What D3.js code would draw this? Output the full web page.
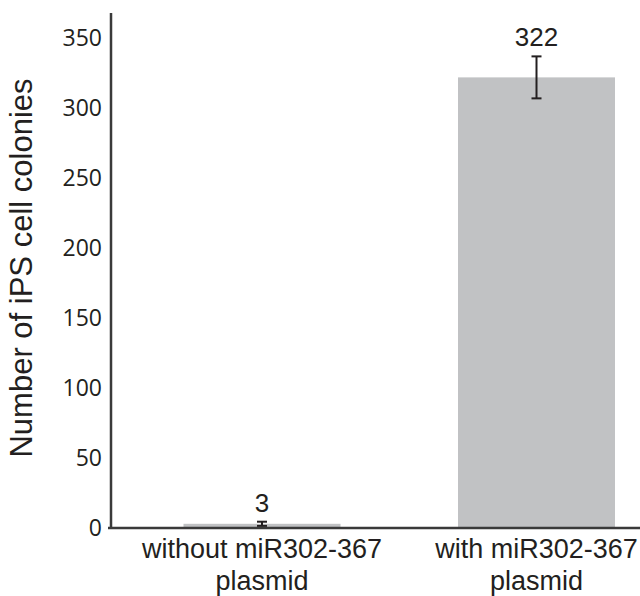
<!DOCTYPE html>
<html>
<head>
<script src="https://d3js.org/d3.v7.min.js"></script>
<style>
  body { margin: 0; background: #fff; }
</style>
</head>
<body>
<svg id="chart" width="640" height="596"></svg>
<script>
  // data
  var groups = ["without miR302-367 plasmid", "with miR302-367 plasmid"];
  var labelLines = [["without miR302-367", "plasmid"], ["with miR302-367", "plasmid"]];
  var colonies = [3, 322];
  var errors = [1.5, 15];
  var yTicks = [0, 50, 100, 150, 200, 250, 300, 350];

  var svg = d3.select("#chart");
  var axisX0 = 111, baseY = 528;

  var y = d3.scaleLinear([0, 368], [baseY, 13]);
  var x = d3.scaleBand(groups, [124.75, 673.75]).paddingInner(0.428).paddingOuter(0.214);

  // bars
  svg.selectAll("rect.bar")
    .data(groups)
    .join("rect")
    .attr("class", "bar")
    .attr("x", d => x(d))
    .attr("width", x.bandwidth())
    .attr("y", (d, i) => y(colonies[i]))
    .attr("height", (d, i) => y(0) - y(colonies[i]))
    .attr("fill", "#c1c2c4");

  // error bars
  var eb = svg.append("g").attr("stroke", "#231f20").attr("stroke-width", 2);
  groups.forEach(function(g, i) {
    var cx = x(g) + x.bandwidth() / 2;
    var top = y(colonies[i] + errors[i]), bot = y(colonies[i] - errors[i]);
    eb.append("line").attr("x1", cx).attr("x2", cx).attr("y1", top).attr("y2", bot);
    eb.append("line").attr("x1", cx - 5).attr("x2", cx + 5).attr("y1", top).attr("y2", top);
    eb.append("line").attr("x1", cx - 5).attr("x2", cx + 5).attr("y1", bot).attr("y2", bot);
  });

  // value labels
  svg.selectAll("text.val")
    .data(groups)
    .join("text")
    .attr("class", "val")
    .attr("x", d => x(d) + x.bandwidth() / 2)
    .attr("y", (d, i) => y(colonies[i] + errors[i]) - 10)
    .attr("text-anchor", "middle")
    .style("font-family", "Liberation Sans, Arial, sans-serif")
    .style("font-size", "26px")
    .attr("fill", "#231f20")
    .text((d, i) => colonies[i]);

  // y axis
  var yAxis = svg.append("g")
    .attr("transform", "translate(" + axisX0 + ",0)")
    .call(d3.axisLeft(y).tickValues(yTicks).tickSize(0).tickPadding(9));
  yAxis.select(".domain").remove();
  yAxis.selectAll("text")
    .style("font-family", "Open Sans, sans-serif")
    .style("font-size", "23px")
    .attr("fill", "#231f20");

  svg.append("line")
    .attr("x1", axisX0).attr("x2", axisX0)
    .attr("y1", y(368)).attr("y2", baseY + 1)
    .attr("stroke", "#3a3a3a").attr("stroke-width", 2.5);

  // x axis
  svg.append("line")
    .attr("x1", axisX0 - 3).attr("x2", 640)
    .attr("y1", baseY).attr("y2", baseY)
    .attr("stroke", "#3a3a3a").attr("stroke-width", 2.5);

  var xAxis = svg.append("g")
    .attr("transform", "translate(0," + baseY + ")")
    .call(d3.axisBottom(x).tickSize(0).tickFormat(""));
  xAxis.select(".domain").remove();
  xAxis.selectAll(".tick text").remove();
  xAxis.selectAll(".tick")
    .append("text")
    .attr("text-anchor", "middle")
    .attr("fill", "#231f20")
    .style("font-family", "Liberation Sans, Arial, sans-serif")
    .style("font-size", "27px")
    .selectAll("tspan")
    .data(d => labelLines[groups.indexOf(d)])
    .join("tspan")
    .attr("x", 0)
    .attr("y", (d, i) => 30 + i * 32)
    .text(d => d);

  // y title
  svg.append("text")
    .attr("transform", "translate(32," + 268 + ") rotate(-90)")
    .attr("text-anchor", "middle")
    .attr("fill", "#231f20")
    .style("font-family", "Liberation Sans, Arial, sans-serif")
    .style("font-size", "31px")
    .text("Number of iPS cell colonies");
</script>
</body>
</html>
